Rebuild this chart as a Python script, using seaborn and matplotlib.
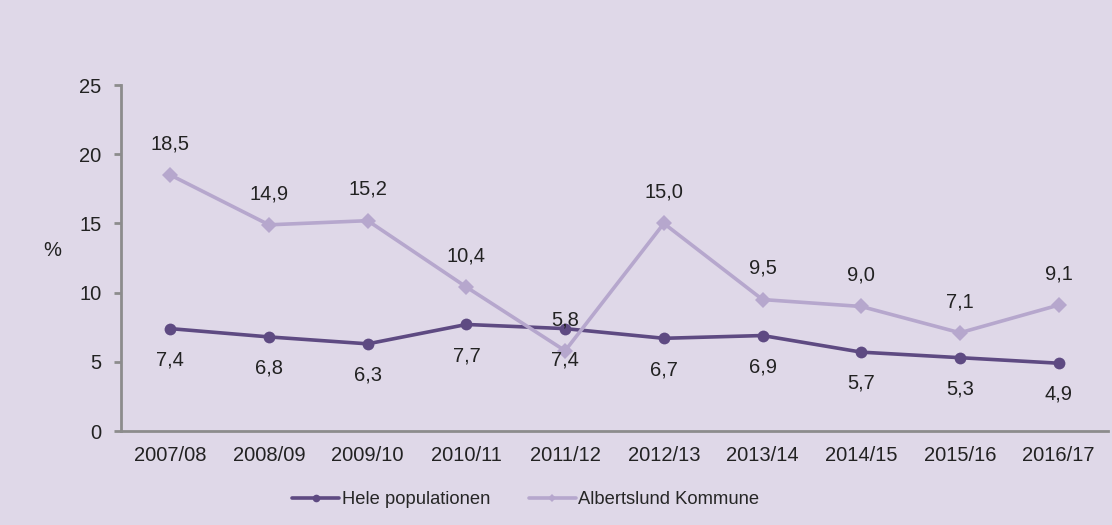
import matplotlib
matplotlib.use("Agg")
import matplotlib.pyplot as plt
from matplotlib.lines import Line2D
import seaborn as sns
import pandas as pd

# Data
seasons = ["2007/08", "2008/09", "2009/10", "2010/11", "2011/12",
           "2012/13", "2013/14", "2014/15", "2015/16", "2016/17"]
hele = [7.4, 6.8, 6.3, 7.7, 7.4, 6.7, 6.9, 5.7, 5.3, 4.9]
albertslund = [18.5, 14.9, 15.2, 10.4, 5.8, 15.0, 9.5, 9.0, 7.1, 9.1]
series_names = ["Hele populationen", "Albertslund Kommune"]

bg = "#dfd8e8"
dark = "#5e4a82"
light = "#b6a7cd"
axis_grey = "#8c8c8c"
txt = "#222222"
fs = 14.5

sns.set_theme(style="white")
plt.rcParams["font.family"] = ["Liberation Sans", "DejaVu Sans"]

df = pd.DataFrame({
    "season": seasons * 2,
    "value": hele + albertslund,
    "series": [series_names[0]] * len(seasons) + [series_names[1]] * len(seasons),
})
df["pos"] = list(range(len(seasons))) * 2

fig = plt.figure(figsize=(11.12, 5.25), dpi=100, facecolor=bg)
ax = fig.add_axes([0.1088, 0.179, 0.8876, 0.659])
ax.set_facecolor(bg)

sns.lineplot(data=df, x="pos", y="value", hue="series", style="series",
             palette={series_names[0]: dark, series_names[1]: light},
             markers={series_names[0]: "o", series_names[1]: "D"},
             dashes=False, linewidth=2.6, markersize=8.5, markeredgewidth=0,
             legend=False, ax=ax)

# value labels
for i, v in enumerate(hele):
    ax.annotate(f"{v:.1f}".replace(".", ","), (i, v), xytext=(0, -22.5),
                textcoords="offset points", ha="center", va="center",
                fontsize=fs, color=txt)
for i, v in enumerate(albertslund):
    ax.annotate(f"{v:.1f}".replace(".", ","), (i, v), xytext=(0, 22.5),
                textcoords="offset points", ha="center", va="center",
                fontsize=fs, color=txt)

ax.set_xlim(-0.5, len(seasons) - 0.5)
ax.set_ylim(0, 25)
ax.set_yticks([0, 5, 10, 15, 20, 25])
ax.set_xticks(range(len(seasons)))
ax.set_xticklabels(seasons)
ax.set_xticks([i - 0.5 for i in range(len(seasons) + 1)], minor=True)
ax.tick_params(axis="x", which="major", length=0, pad=11, labelsize=fs, labelcolor=txt)
ax.tick_params(axis="x", which="minor", length=5, width=2, color=axis_grey, direction="out")
ax.tick_params(axis="y", length=5, width=2, color=axis_grey, direction="out",
               labelsize=fs, labelcolor=txt, pad=9, left=True)
ax.set_xlabel("")
ax.set_ylabel("%", rotation=0, fontsize=fs, color=txt, va="center", ha="center")
ax.yaxis.set_label_coords(-0.07, 0.523)

for side in ["top", "right"]:
    ax.spines[side].set_visible(False)
for side in ["left", "bottom"]:
    ax.spines[side].set_color(axis_grey)
    ax.spines[side].set_linewidth(2)

handles = [
    Line2D([0], [0], color=dark, lw=2.6, marker="o", markersize=5.5, markeredgewidth=0),
    Line2D([0], [0], color=light, lw=2.6, marker="D", markersize=4, markeredgewidth=0),
]
fig.legend(handles, series_names, loc="center", bbox_to_anchor=(0.473, 0.048),
           ncol=2, frameon=False, fontsize=13.2, handlelength=2.55, handletextpad=0.15,
           columnspacing=2.1, borderpad=0)

fig.savefig("out.png", dpi=100, facecolor=bg)
